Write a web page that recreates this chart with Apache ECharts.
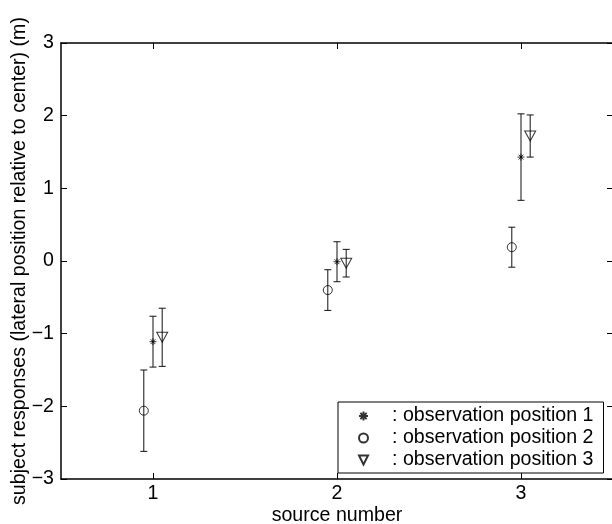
<!DOCTYPE html>
<html lang="en">
<head>
    <meta charset="UTF-8">
    <title>source number</title>
    <script src="https://cdn.jsdelivr.net/npm/echarts@6/dist/echarts.min.js"></script>
    <style>
        body{ margin: 0; }
        .box{
            width: 612px;
            height: 524px;
            background-color: #fff;
        }
    </style>
</head>
<body>
   <div id="show_echarts" class="box"></div>

<script>
        // data
        var xTicks = [1, 2, 3];
        var yTicks = [-3, -2, -1, 0, 1, 2, 3];
        var seriesNames = [': observation position 1', ': observation position 2', ': observation position 3'];

        var pos1X = [1.00, 2.00, 3.00];
        var pos1Mean = [-1.11, -0.01, 1.43];
        var pos1Err = [0.35, 0.275, 0.595];

        var pos2X = [0.95, 1.95, 2.95];
        var pos2Mean = [-2.06, -0.40, 0.19];
        var pos2Err = [0.56, 0.28, 0.275];

        var pos3X = [1.05, 2.05, 3.05];
        var pos3Mean = [-1.05, -0.03, 1.72];
        var pos3Err = [0.40, 0.19, 0.29];

        var font = 'Liberation Sans';
        var fs = 19.6;
        var starPath = 'path://M5,0L5,10M0,5L10,5M1.5,1.5L8.5,8.5M1.5,8.5L8.5,1.5';
        var triPath = 'path://M0,0L10,0L5,10Z';

        function pts(xs, ys){
            return xs.map(function(x, i){ return [x, ys[i]]; });
        }
        function bars(xs, ys, es){
            return xs.map(function(x, i){ return [x, ys[i], es[i]]; });
        }

        function minus(v){
            return String(v).replace('-', '\u2212');
        }

        function show(){
            var myChart = echarts.init(document.querySelector(".box"));

            var errData = [].concat(
                bars(pos1X, pos1Mean, pos1Err),
                bars(pos2X, pos2Mean, pos2Err),
                bars(pos3X, pos3Mean, pos3Err)
            );

            var markStyle = { color: 'rgba(0,0,0,0)', borderColor: '#000', borderWidth: 1 };
            var axLine = { onZero: false, lineStyle: { color: '#000', width: 1.5 } };

            var option = {
                animation: false,
                textStyle: { fontFamily: font, color: '#000' },
                grid: { left: 61, top: 43, right: -1, bottom: 45, containLabel: false, outerBoundsMode: 'none' },
                xAxis: [
                    {
                        type: 'value', position: 'bottom', min: 0.5, max: 3.5,
                        name: 'source number', nameLocation: 'middle', nameGap: 27, nameMoveOverlap: false,
                        nameTextStyle: { fontSize: fs, color: '#000', fontFamily: font },
                        axisLine: axLine,
                        axisTick: { inside: true, length: 6, customValues: xTicks, lineStyle: { color: '#000' } },
                        axisLabel: { customValues: xTicks, fontSize: fs, color: '#000', margin: 5 },
                        splitLine: { show: false }
                    },
                    {
                        type: 'value', position: 'top', min: 0.5, max: 3.5,
                        axisLine: axLine,
                        axisTick: { inside: true, length: 6, customValues: xTicks, lineStyle: { color: '#000' } },
                        axisLabel: { show: false },
                        splitLine: { show: false }
                    }
                ],
                yAxis: [
                    {
                        type: 'value', position: 'left', min: yTicks[0], max: yTicks[yTicks.length - 1], interval: 1,
                        name: 'subject responses (lateral position relative to center) (m)',
                        nameLocation: 'middle', nameGap: 31, nameMoveOverlap: false,
                        nameTextStyle: { fontSize: fs, color: '#000', fontFamily: font },
                        axisLine: axLine,
                        axisTick: { inside: true, length: 6, lineStyle: { color: '#000' } },
                        axisLabel: { fontSize: fs, color: '#000', margin: 7, formatter: minus },
                        splitLine: { show: false }
                    },
                    {
                        type: 'value', position: 'right', min: yTicks[0], max: yTicks[yTicks.length - 1], interval: 1,
                        axisLine: axLine,
                        axisTick: { inside: true, length: 6, lineStyle: { color: '#000' } },
                        axisLabel: { show: false },
                        splitLine: { show: false }
                    }
                ],
                legend: {
                    orient: 'vertical',
                    left: 338, top: 402,
                    padding: [3, 10, 2, 20],
                    itemGap: 0,
                    itemWidth: 9, itemHeight: 9,
                    borderColor: '#000', borderWidth: 1,
                    backgroundColor: '#fff',
                    formatter: function(name){ return '{g|}' + name; },
                    textStyle: {
                        fontSize: fs, lineHeight: 22, color: '#000', fontFamily: font,
                        rich: { g: { width: 19 } }
                    },
                    data: seriesNames
                },
                series: [
                    {
                        name: 'errorbars',
                        type: 'custom',
                        z: 1,
                        data: errData,
                        renderItem: function(params, api){
                            var x = api.value(0), y = api.value(1), e = api.value(2);
                            var hi = api.coord([x, y + e]);
                            var lo = api.coord([x, y - e]);
                            var w = 3.5;
                            var st = { stroke: '#111', lineWidth: 1 };
                            return {
                                type: 'group',
                                children: [
                                    { type: 'line', shape: { x1: hi[0], y1: hi[1], x2: lo[0], y2: lo[1] }, style: st },
                                    { type: 'line', shape: { x1: hi[0] - w, y1: hi[1], x2: hi[0] + w, y2: hi[1] }, style: st },
                                    { type: 'line', shape: { x1: lo[0] - w, y1: lo[1], x2: lo[0] + w, y2: lo[1] }, style: st }
                                ]
                            };
                        }
                    },
                    {
                        name: seriesNames[0], type: 'scatter', z: 3,
                        symbol: starPath, symbolSize: 7,
                        itemStyle: { color: '#000', borderColor: '#000', borderWidth: 1 },
                        data: pts(pos1X, pos1Mean)
                    },
                    {
                        name: seriesNames[1], type: 'scatter', z: 3,
                        symbol: 'circle', symbolSize: 9,
                        itemStyle: markStyle,
                        data: pts(pos2X, pos2Mean)
                    },
                    {
                        name: seriesNames[2], type: 'scatter', z: 3,
                        symbol: triPath, symbolSize: [11, 10],
                        itemStyle: markStyle,
                        data: pts(pos3X, pos3Mean)
                    }
                ]
            };
            myChart.setOption(option);
        }
        show()
</script>
</body>
</html>
